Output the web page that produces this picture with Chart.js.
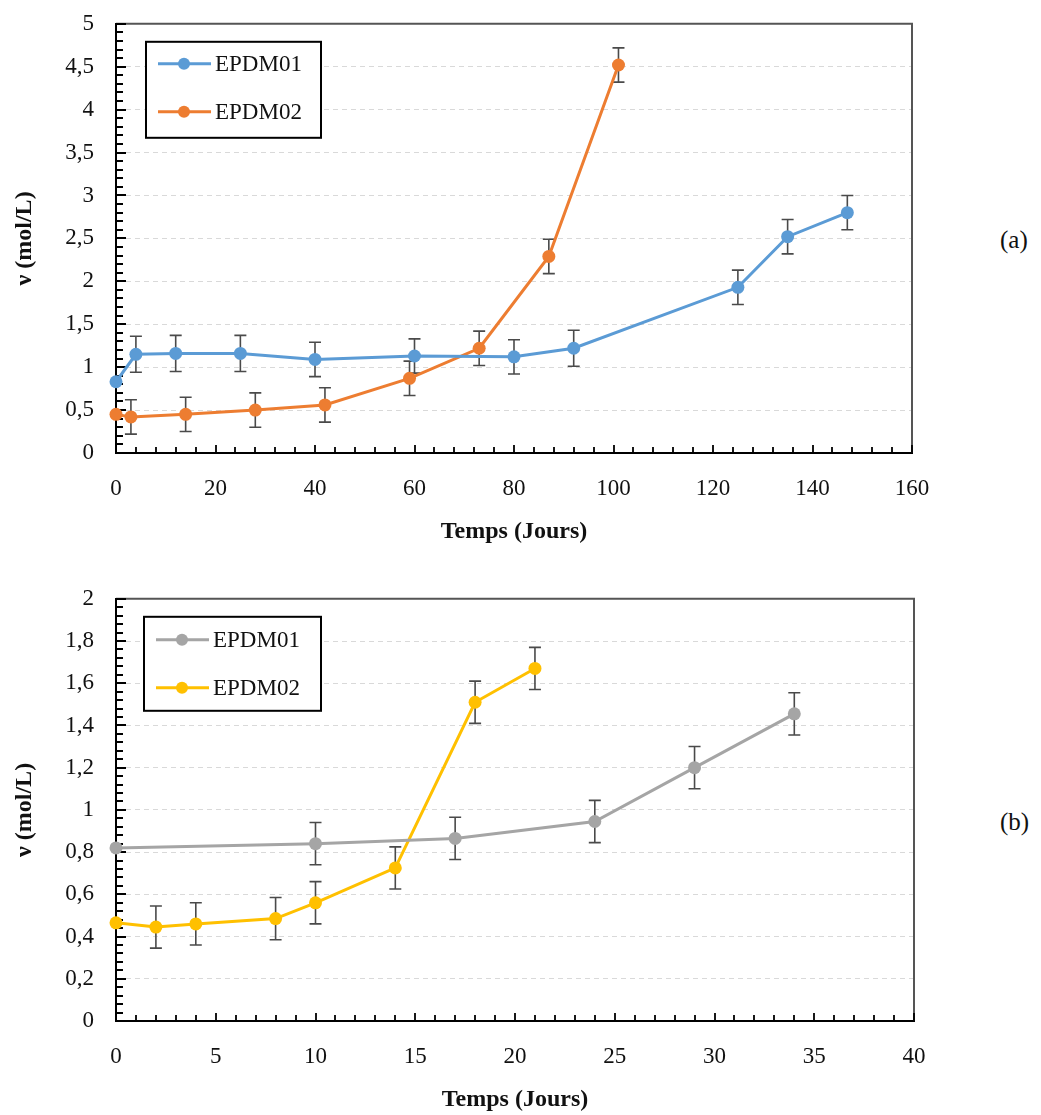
<!DOCTYPE html>
<html>
<head>
<meta charset="utf-8">
<script src="https://cdn.jsdelivr.net/npm/chart.js@4/dist/chart.umd.min.js"></script>
<style>
  body { margin: 0; background: #fff; }
  #page { position: relative; width: 1041px; height: 1115px; background: #fff; overflow: hidden; }
  canvas { position: absolute; left: 0; }
  .tag { position: absolute; left: 1000px; font-family: "Liberation Serif", serif; font-size: 25px; color: #111; }
</style>
</head>
<body>
<div id="page">
  <canvas id="chartA" width="960" height="572" style="top:-12px"></canvas>
  <canvas id="chartB" width="960" height="552" style="top:563px"></canvas>
  <div class="tag" style="top:226px">(a)</div>
  <div class="tag" style="top:808px">(b)</div>
</div>
<script>
// (a) days and crosslink density
const daysA1 = [0, 4, 12, 25, 40, 60, 80, 92, 125, 135, 147];
const nuA1 = [0.83, 1.15, 1.16, 1.16, 1.09, 1.13, 1.12, 1.22, 1.93, 2.52, 2.80];
const errA1 = [0, 0.21, 0.21, 0.21, 0.2, 0.2, 0.2, 0.21, 0.2, 0.2, 0.2];
const daysA2 = [0, 3, 14, 28, 42, 59, 73, 87, 101];
const nuA2 = [0.45, 0.42, 0.45, 0.50, 0.56, 0.87, 1.22, 2.29, 4.52];
const errA2 = [0, 0.2, 0.2, 0.2, 0.2, 0.2, 0.2, 0.2, 0.2];

// (b)
const daysB1 = [0, 10, 17, 24, 29, 34];
const nuB1 = [0.82, 0.84, 0.865, 0.945, 1.2, 1.455];
const errB1 = [0, 0.1, 0.1, 0.1, 0.1, 0.1];
const daysB2 = [0, 2, 4, 8, 10, 14, 18, 21];
const nuB2 = [0.465, 0.445, 0.46, 0.485, 0.56, 0.725, 1.51, 1.67];
const errB2 = [0, 0.1, 0.1, 0.1, 0.1, 0.1, 0.1, 0.1];

const seriesNames = ['EPDM01', 'EPDM02'];
const FONT = '"Liberation Serif", "DejaVu Serif", serif';

const pts = (xs, ys) => xs.map((x, i) => ({ x: x, y: ys[i] }));
const fmt = v => String(Number(v.toFixed(2))).replace('.', ',');

function series(label, xs, ys, errs, color) {
  return {
    label: label,
    data: pts(xs, ys),
    errors: errs,
    borderColor: color,
    backgroundColor: color,
    pointBackgroundColor: color,
    borderWidth: 3,
    pointRadius: 6.5,
    pointBorderWidth: 0,
    tension: 0,
    clip: false
  };
}

const errBars = {
  id: 'errBars',
  beforeDatasetsDraw(chart) {
    const { ctx, scales: { x, y } } = chart;
    ctx.save();
    ctx.strokeStyle = '#4a4a4a';
    ctx.lineWidth = 1.6;
    chart.data.datasets.forEach(ds => {
      ds.data.forEach((p, i) => {
        const e = ds.errors[i];
        if (!e) return;
        const px = x.getPixelForValue(p.x);
        const t = y.getPixelForValue(p.y + e);
        const b = y.getPixelForValue(p.y - e);
        ctx.beginPath();
        ctx.moveTo(px, t); ctx.lineTo(px, b);
        ctx.moveTo(px - 6, t); ctx.lineTo(px + 6, t);
        ctx.moveTo(px - 6, b); ctx.lineTo(px + 6, b);
        ctx.stroke();
      });
    });
    ctx.restore();
  }
};

const frame = {
  id: 'frame',
  beforeDatasetsDraw(chart, args, opts) {
    const { ctx, chartArea: a, scales: { x, y } } = chart;
    ctx.save();
    // top + right border
    ctx.strokeStyle = '#555';
    ctx.lineWidth = 2;
    ctx.beginPath();
    ctx.moveTo(a.left, a.top); ctx.lineTo(a.right, a.top); ctx.lineTo(a.right, a.bottom);
    ctx.stroke();
    // inner ticks
    ctx.strokeStyle = '#000';
    ctx.lineWidth = 1.8;
    ctx.beginPath();
    for (let v = x.min; v <= x.max + 1e-9; v += opts.xMinor) {
      const px = Math.round(x.getPixelForValue(v));
      const major = Math.abs(v / opts.xMajor - Math.round(v / opts.xMajor)) < 1e-6;
      ctx.moveTo(px, a.bottom); ctx.lineTo(px, a.bottom - (major ? 8 : 6));
    }
    for (let v = y.min; v <= y.max + 1e-9; v += opts.yMinor) {
      const py = Math.round(y.getPixelForValue(v));
      const major = Math.abs(v / opts.yMajor - Math.round(v / opts.yMajor)) < 1e-6;
      ctx.moveTo(a.left, py); ctx.lineTo(a.left + (major ? 10 : 7), py);
    }
    ctx.stroke();
    ctx.restore();
  },
  afterDraw(chart, args, opts) {
    const { ctx, chartArea: a } = chart;
    ctx.save();
    // legend box
    const L = a.left + opts.legX, T = a.top + opts.legY;
    ctx.fillStyle = '#fff';
    ctx.fillRect(L, T, opts.legW, opts.legH);
    ctx.strokeStyle = '#000';
    ctx.lineWidth = 2;
    ctx.strokeRect(L, T, opts.legW, opts.legH);
    ctx.font = '23px ' + FONT;
    ctx.textBaseline = 'middle';
    chart.data.datasets.forEach((ds, i) => {
      const cy = T + opts.legRow0 + i * opts.legRowGap;
      ctx.strokeStyle = ds.borderColor;
      ctx.lineWidth = 3;
      ctx.beginPath(); ctx.moveTo(L + 12, cy); ctx.lineTo(L + 65, cy); ctx.stroke();
      ctx.fillStyle = ds.borderColor;
      ctx.beginPath(); ctx.arc(L + 38, cy, 6, 0, Math.PI * 2); ctx.fill();
      ctx.fillStyle = '#111';
      ctx.fillText(ds.label, L + 69, cy + 1);
    });
    ctx.restore();
  }
};

function makeChart(id, datasets, ax) {
  new Chart(document.getElementById(id), {
    type: 'line',
    data: { datasets: datasets },
    plugins: [errBars, frame],
    options: {
      responsive: false,
      animation: false,
      layout: { padding: { top: 10, right: ax.padRight, left: 0, bottom: 0 } },
      plugins: {
        legend: { display: false },
        tooltip: { enabled: false },
        frame: ax.frame
      },
      scales: {
        x: {
          type: 'linear',
          min: ax.xMin, max: ax.xMax,
          afterFit: s => { s.height = ax.xHeight; },
          ticks: { stepSize: ax.xStep, padding: 22, color: '#111', font: { family: FONT, size: 23 } },
          grid: { display: false, drawTicks: false },
          border: { display: true, color: '#000', width: 2 },
          title: { display: true, text: 'Temps (Jours)', color: '#111', padding: { top: 0, bottom: ax.xTitlePad }, font: { family: FONT, size: 24, weight: 'bold' } }
        },
        y: {
          min: ax.yMin, max: ax.yMax,
          afterFit: s => { s.width = 116; },
          ticks: { stepSize: ax.yStep, padding: 22, color: '#111', font: { family: FONT, size: 23 }, callback: v => fmt(v) },
          grid: { color: '#d9d9d9', lineWidth: 1, drawTicks: false },
          border: { display: true, color: '#000', width: 2, dash: [5, 4] },
          title: { display: true, text: 'ν (mol/L)', color: '#111', padding: { top: 10, bottom: 0 }, font: { family: FONT, size: 24, weight: 'bold' } }
        }
      }
    }
  });
}

makeChart('chartA', [
  series(seriesNames[0], daysA1, nuA1, errA1, '#5B9BD5'),
  series(seriesNames[1], daysA2, nuA2, errA2, '#ED7D31')
], {
  padRight: 48, xHeight: 107, xTitlePad: 14,
  xMin: 0, xMax: 160, xStep: 20, yMin: 0, yMax: 5, yStep: 0.5,
  frame: { xMinor: 4, xMajor: 20, yMinor: 0.1, yMajor: 0.5,
           legX: 30, legY: 18, legW: 175, legH: 96, legRow0: 22, legRowGap: 48 }
});

makeChart('chartB', [
  series(seriesNames[0], daysB1, nuB1, errB1, '#A5A5A5'),
  series(seriesNames[1], daysB2, nuB2, errB2, '#FFC000')
], {
  padRight: 46, xHeight: 94, xTitlePad: 1,
  xMin: 0, xMax: 40, xStep: 5, yMin: 0, yMax: 2, yStep: 0.2,
  frame: { xMinor: 1, xMajor: 5, yMinor: 0.04, yMajor: 0.2,
           legX: 28, legY: 18, legW: 177, legH: 94, legRow0: 23, legRowGap: 48 }
});
</script>
</body>
</html>
